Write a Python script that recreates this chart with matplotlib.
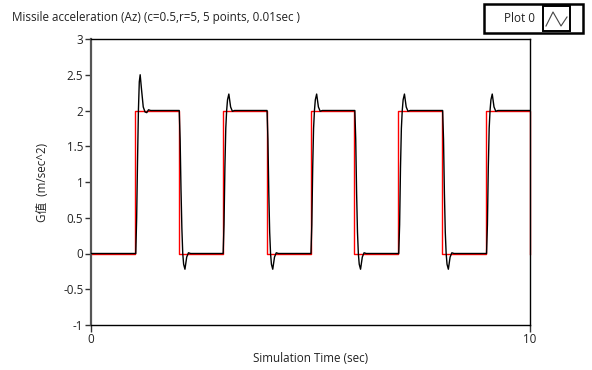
import matplotlib

matplotlib.use("Agg")
import matplotlib.pyplot as plt
from matplotlib.patches import Rectangle

# command (red): ideal square wave, 0 <-> 2 G
cmd_t = [0, 1, 1, 2, 2, 3, 3, 4, 4, 5, 5, 6, 6, 7, 7, 8, 8, 9, 9, 10, 10]
cmd_g = [0, 0, 2, 2, 0, 0, 2, 2, 0, 0, 2, 2, 0, 0, 2, 2, 0, 0, 2, 2, 0]

# missile response (black)
az_t = [
    0.00,
    1.02, 1.03, 1.04, 1.06, 1.08, 1.10, 1.12, 1.15, 1.19, 1.23, 1.27, 1.31, 1.36,
    2.01, 2.03, 2.05, 2.07, 2.09, 2.11, 2.14, 2.18, 2.22, 2.27,
    3.01, 3.03, 3.05, 3.07, 3.09, 3.11, 3.14, 3.18, 3.22, 3.27,
    4.01, 4.03, 4.05, 4.07, 4.09, 4.11, 4.14, 4.18, 4.22, 4.27,
    5.01, 5.03, 5.05, 5.07, 5.09, 5.11, 5.14, 5.18, 5.22, 5.27,
    6.01, 6.03, 6.05, 6.07, 6.09, 6.11, 6.14, 6.18, 6.22, 6.27,
    7.01, 7.03, 7.05, 7.07, 7.09, 7.11, 7.14, 7.18, 7.22, 7.27,
    8.01, 8.03, 8.05, 8.07, 8.09, 8.11, 8.14, 8.18, 8.22, 8.27,
    9.01, 9.03, 9.05, 9.07, 9.09, 9.11, 9.14, 9.18, 9.22, 9.27,
    10.00,
]
az_g = [
    0.00,
    0.00, 0.25, 0.50, 1.30, 2.00, 2.40, 2.50, 2.30, 2.05, 1.98, 1.97, 2.01, 2.00,
    2.00, 1.60, 0.90, 0.35, 0.00, -0.15, -0.22, -0.05, 0.01, 0.00,
    0.00, 0.40, 1.20, 1.75, 2.00, 2.15, 2.23, 2.05, 1.99, 2.00,
    2.00, 1.60, 0.85, 0.30, 0.00, -0.15, -0.22, -0.05, 0.01, 0.00,
    0.00, 0.40, 1.20, 1.75, 2.00, 2.15, 2.23, 2.05, 1.99, 2.00,
    2.00, 1.60, 0.85, 0.30, 0.00, -0.15, -0.22, -0.05, 0.01, 0.00,
    0.00, 0.40, 1.20, 1.75, 2.00, 2.15, 2.23, 2.05, 1.99, 2.00,
    2.00, 1.60, 0.85, 0.30, 0.00, -0.15, -0.22, -0.05, 0.01, 0.00,
    0.00, 0.40, 1.20, 1.75, 2.00, 2.15, 2.23, 2.05, 1.99, 2.00,
    2.00,
]

y_ticks = [-1, -0.5, 0, 0.5, 1, 1.5, 2, 2.5, 3]
y_labels = ["-1", "-0.5", "0", "0.5", "1", "1.5", "2", "2.5", "3"]
x_ticks = [0, 10]

FONT = ["Open Sans", "Noto Sans CJK TC", "DejaVu Sans"]
plt.rcParams["font.family"] = FONT
plt.rcParams["font.size"] = 8.4
TXT = "#222222"

fig = plt.figure(figsize=(5.92, 3.70), dpi=100)
ax = fig.add_axes([91 / 592, 45 / 370, 439 / 592, 286 / 370])

ax.plot(cmd_t, cmd_g, color="#ff0000", lw=1.0, clip_on=False, zorder=2)
ax.plot(az_t, az_g, color="black", lw=1.0, zorder=3)

ax.set_xlim(0, 10)
ax.set_ylim(-1, 3)
ax.set_yticks(y_ticks, y_labels)
ax.set_xticks(x_ticks, [str(t) for t in x_ticks])
ax.tick_params(axis="both", direction="out", length=4, width=1, colors="#333333",
               labelcolor=TXT, pad=1.5)
ax.tick_params(axis="x", length=5, pad=1)

for side in ("top", "right", "bottom"):
    ax.spines[side].set_color("black")
    ax.spines[side].set_linewidth(1.0)
ax.spines["left"].set_color("#555555")
ax.spines["left"].set_linewidth(1.6)

ax.set_xlabel("Simulation Time (sec)", color=TXT, labelpad=4)
ax.set_ylabel("G值  (m/sec^2)", color=TXT, labelpad=10)

fig.text(12 / 592, 1 - 18 / 370, "Missile acceleration (Az) (c=0.5,r=5, 5 points, 0.01sec )",
         ha="left", va="center", color=TXT)

# legend box in the top-right corner
W, H = 592, 370
fig.patches.append(Rectangle((484 / W, 1 - 33 / H), 99 / W, 29 / H, transform=fig.transFigure,
                             fill=False, edgecolor="black", lw=1.8))
fig.patches.append(Rectangle((543 / W, 1 - 31 / H), 27 / W, 25 / H, transform=fig.transFigure,
                             fill=False, edgecolor="black", lw=1.4))
fig.text(535 / W, 1 - 18 / H, "Plot 0", ha="right", va="center", color=TXT)
fig.lines.append(plt.Line2D([546 / W, 553 / W, 561 / W, 567 / W],
                            [1 - 26 / H, 1 - 12 / H, 1 - 26 / H, 1 - 17 / H],
                            transform=fig.transFigure, color="#444444", lw=0.8))

fig.savefig("out.png", dpi=100)
